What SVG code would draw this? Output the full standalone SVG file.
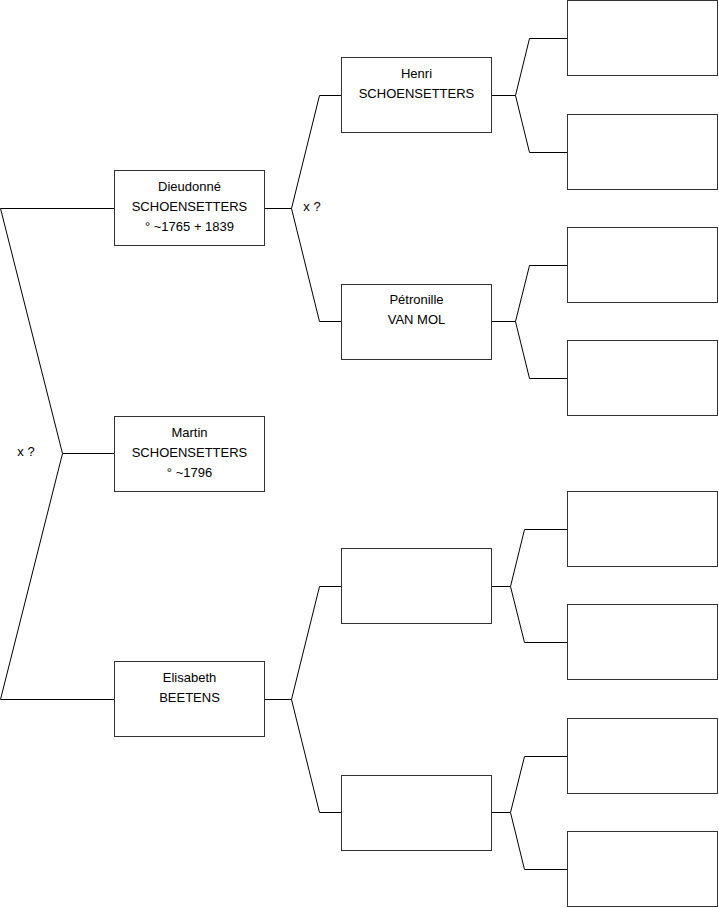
<svg xmlns="http://www.w3.org/2000/svg" width="719" height="908" viewBox="0 0 719 908">
<style>
.box{fill:#fff;stroke:#333;stroke-width:1}
.ln{fill:none;stroke:#000;stroke-width:1}
text{font-family:"Liberation Sans",Arial,sans-serif;font-size:13px;fill:#000;text-anchor:middle}
</style>
<rect width="719" height="908" fill="#fff"/>
<g id="connectors">
<path class="ln" d="M114.5 453.5H62.5L0.5 208.5H114.5"/>
<path class="ln" d="M62.5 453.5L0.5 699.5H114.5"/>
<path class="ln" d="M265 208.5H291.5L319.5 95.5H341"/>
<path class="ln" d="M291.5 208.5L319.5 321.5H341"/>
<path class="ln" d="M265 699.5H291.5L319.5 586.5H341"/>
<path class="ln" d="M291.5 699.5L319.5 812.5H341"/>
<path class="ln" d="M491 95.5H515.5L529.5 38.5H567"/>
<path class="ln" d="M515.5 95.5L529.5 152.5H567"/>
<path class="ln" d="M491 321.5H515.5L529.5 265.5H567"/>
<path class="ln" d="M515.5 321.5L529.5 378.5H567"/>
<path class="ln" d="M491 586.5H510.5L524.5 529.5H567"/>
<path class="ln" d="M510.5 586.5L524.5 642.5H567"/>
<path class="ln" d="M491 812.5H510.5L524.5 756.5H567"/>
<path class="ln" d="M510.5 812.5L524.5 869.5H567"/>
<text x="26" y="456">x ?</text>
<text x="312" y="211">x ?</text>
</g>
<g id="dieudonne"><rect class="box" x="114.5" y="170.5" width="150" height="75"/><text x="189.5" y="191">Dieudonné</text><text x="189.5" y="211">SCHOENSETTERS</text><text x="189.5" y="231">° ~1765 + 1839</text></g>
<g id="martin"><rect class="box" x="114.5" y="416.5" width="150" height="75"/><text x="189.5" y="437">Martin</text><text x="189.5" y="457">SCHOENSETTERS</text><text x="189.5" y="477">° ~1796</text></g>
<g id="elisabeth"><rect class="box" x="114.5" y="661.5" width="150" height="75"/><text x="189.5" y="682">Elisabeth</text><text x="189.5" y="702">BEETENS</text></g>
<g id="henri"><rect class="box" x="341.5" y="57.5" width="150" height="75"/><text x="416.5" y="78">Henri</text><text x="416.5" y="98">SCHOENSETTERS</text></g>
<g id="petronille"><rect class="box" x="341.5" y="284.5" width="150" height="75"/><text x="416.5" y="304">Pétronille</text><text x="416.5" y="324">VAN MOL</text></g>
<g id="g2c"><rect class="box" x="341.5" y="548.5" width="150" height="75"/></g>
<g id="g2d"><rect class="box" x="341.5" y="775.5" width="150" height="75"/></g>
<g id="g3a"><rect class="box" x="567.5" y="0.5" width="150" height="75"/></g>
<g id="g3b"><rect class="box" x="567.5" y="114.5" width="150" height="75"/></g>
<g id="g3c"><rect class="box" x="567.5" y="227.5" width="150" height="75"/></g>
<g id="g3d"><rect class="box" x="567.5" y="340.5" width="150" height="75"/></g>
<g id="g3e"><rect class="box" x="567.5" y="491.5" width="150" height="75"/></g>
<g id="g3f"><rect class="box" x="567.5" y="604.5" width="150" height="75"/></g>
<g id="g3g"><rect class="box" x="567.5" y="718.5" width="150" height="75"/></g>
<g id="g3h"><rect class="box" x="567.5" y="831.5" width="150" height="75"/></g>
</svg>
